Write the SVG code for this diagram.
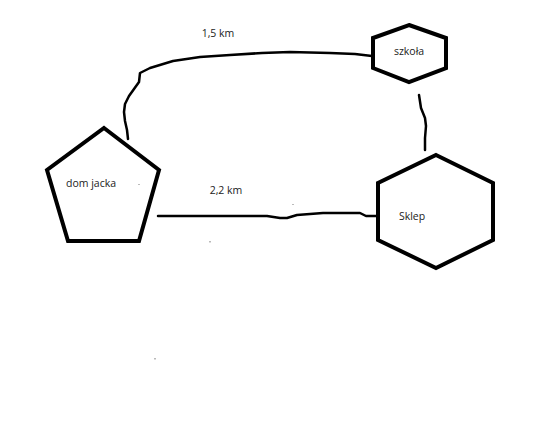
<svg xmlns="http://www.w3.org/2000/svg" width="550" height="440" viewBox="0 0 550 440">
<style>
.shape{fill:none;stroke:#000;stroke-width:4;stroke-linejoin:miter}
.conn{fill:none;stroke:#000;stroke-width:2.5;stroke-linecap:round;stroke-linejoin:round}
.lbl{font-family:"Open Sans","Noto Sans",sans-serif;font-size:10.5px;fill:#222}
</style>
<rect width="550" height="440" fill="#fff"/>
<g id="connectors">
<path class="conn" d="M128,139 L127,130 L125,121 L124,112 L125,104 L129,96 L134,89 L139,82 L140,73 L150,68 L173,61 L200,57 L230,55 L262,53 L290,52 L330,53 L355,54 L372,56"/>
<path class="conn" d="M419,95 L421,108 L425,118 L426,126 L425,138 L425,150"/>
<path class="conn" d="M158,216 L267,216 L280,218 L287,218 L297,215 L310,214 L323,213 L345,213 L360,213 L366,216 L378,216"/>
<text class="lbl" x="218" y="37" text-anchor="middle">1,5 km</text>
<text class="lbl" x="226" y="194" text-anchor="middle">2,2 km</text>
</g>
<g id="dom-jacka">
<polygon class="shape" points="104,128 159,170 139,241 68,241 47,170"/>
<text class="lbl" x="91" y="187" text-anchor="middle">dom jacka</text>
</g>
<g id="szkola">
<polygon class="shape" points="409,25 446,38 446,68 409,82 373,68 373,38"/>
<text class="lbl" x="409" y="55" text-anchor="middle">szkoła</text>
</g>
<g id="sklep">
<polygon class="shape" points="436,155 493,183 493,240 436,268 378,240 378,183"/>
<text class="lbl" x="412" y="220" text-anchor="middle">Sklep</text>
</g>
<g fill="#777">
<rect x="209.5" y="241" width="1" height="1.5"/>
<rect x="154.5" y="358" width="1" height="1.5"/>
<rect x="292.5" y="204" width="1" height="1"/>
<rect x="138.5" y="184" width="1" height="1"/>
</g>
</svg>
